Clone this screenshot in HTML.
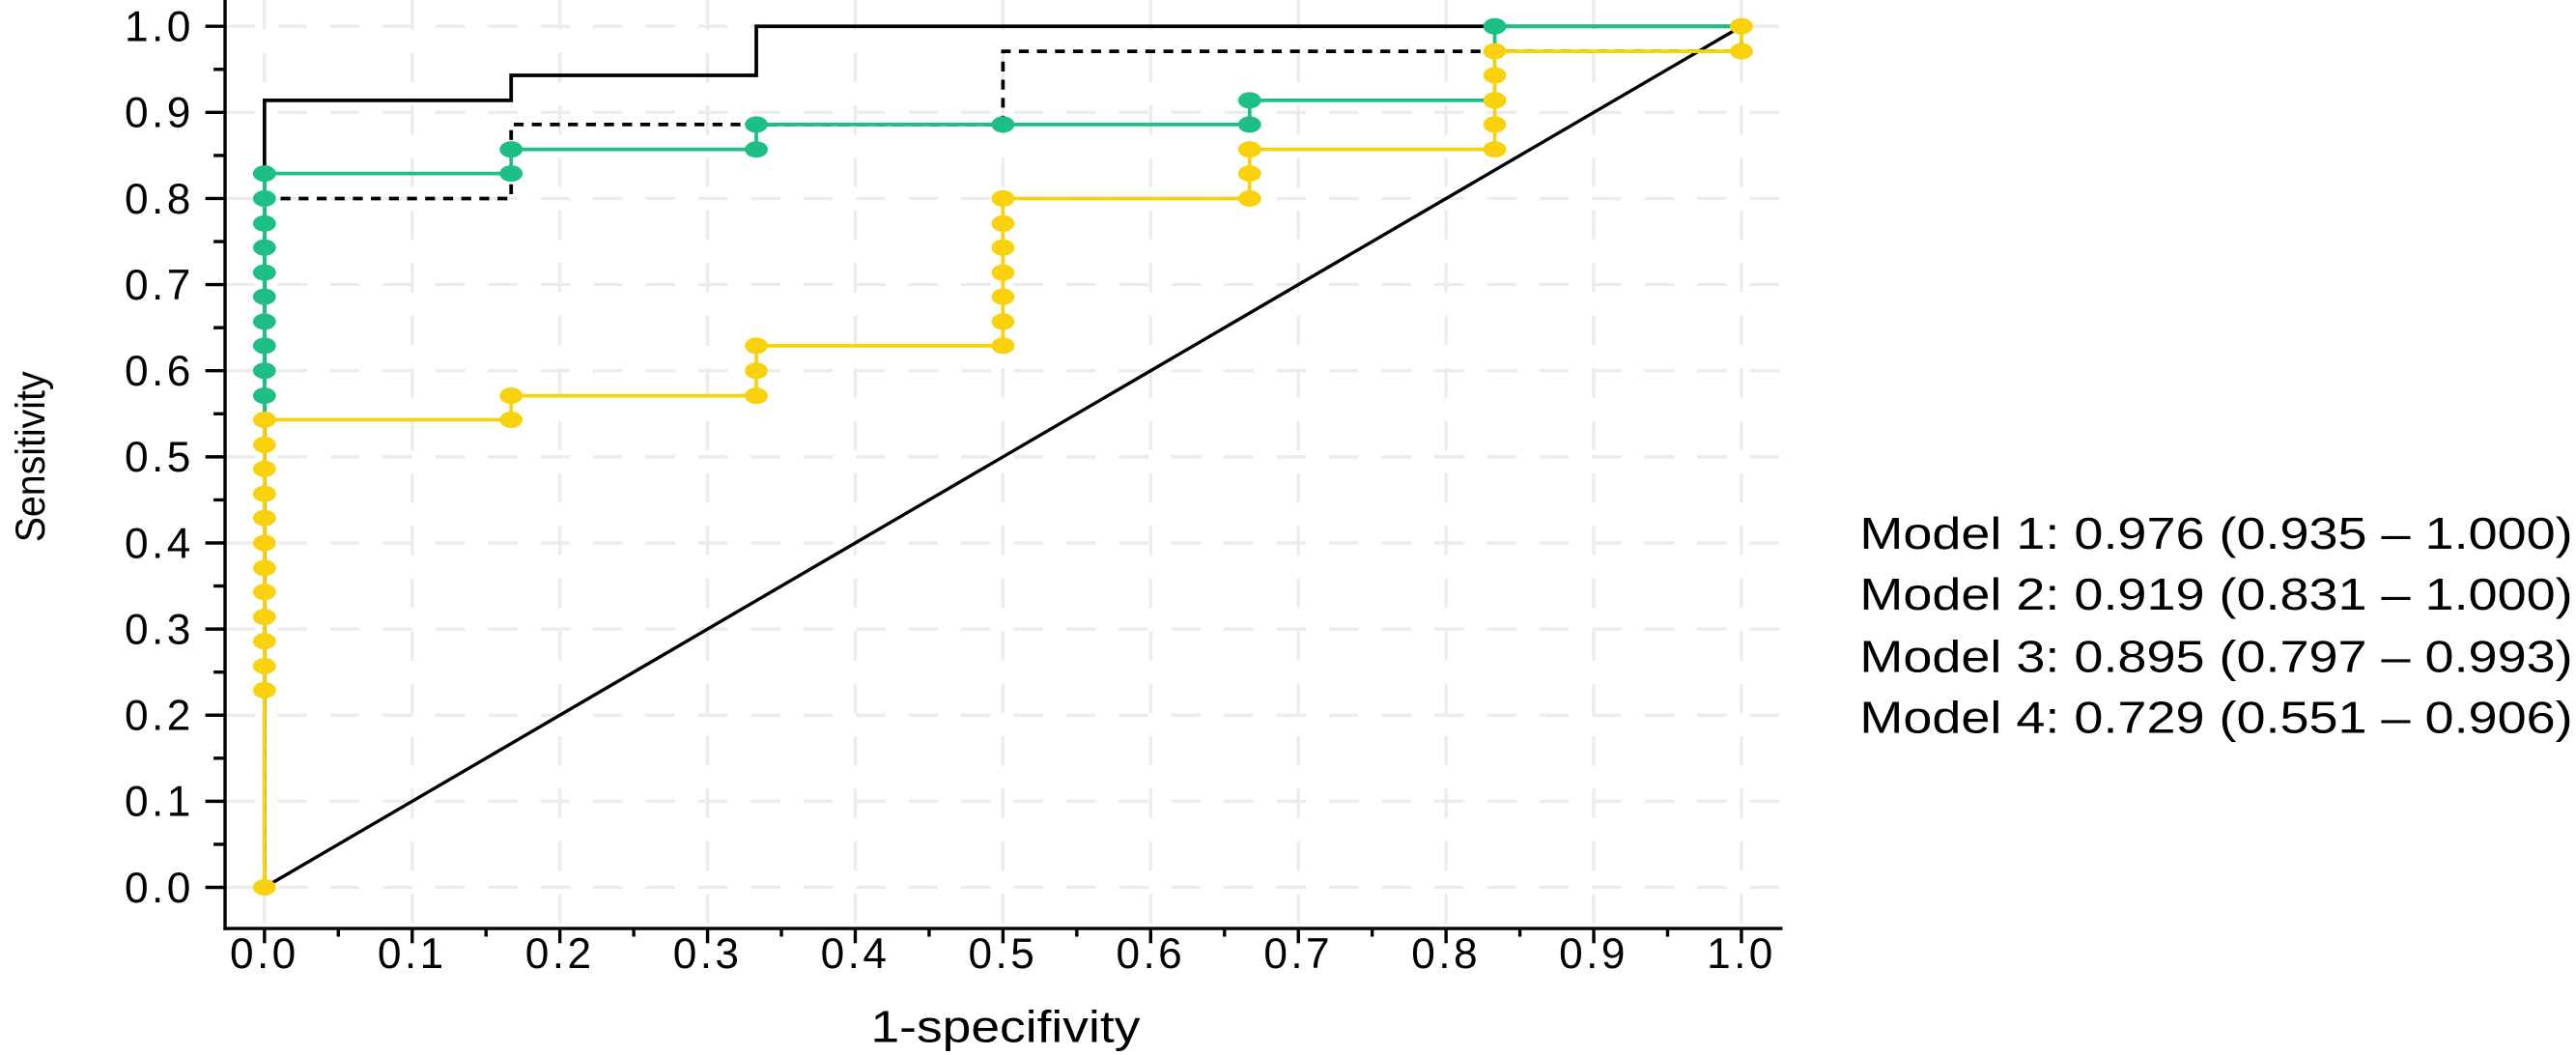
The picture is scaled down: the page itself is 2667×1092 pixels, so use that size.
<!DOCTYPE html>
<html><head><meta charset="utf-8"><style>
html,body{margin:0;padding:0;background:#fff;}
svg{display:block;}
text{font-family:"Liberation Sans",sans-serif;fill:#000;}
</style></head><body>
<svg id="chart" width="2667" height="1092" viewBox="0 0 1568 642" xmlns="http://www.w3.org/2000/svg">
<g id="grid"></g>
<g id="axes"></g>
<g id="series"></g>
<text x="612" y="634" font-size="27" text-anchor="middle" textLength="164" lengthAdjust="spacingAndGlyphs">1-specifivity</text>
<text x="0" y="0" font-size="25" text-anchor="middle" textLength="104" lengthAdjust="spacingAndGlyphs" transform="translate(27,278) rotate(-90)">Sensitivity</text>
<g font-size="27">
<text x="1132" y="334" textLength="434" lengthAdjust="spacingAndGlyphs">Model 1: 0.976 (0.935 – 1.000)</text>
<text x="1132" y="371" textLength="434" lengthAdjust="spacingAndGlyphs">Model 2: 0.919 (0.831 – 1.000)</text>
<text x="1132" y="409" textLength="434" lengthAdjust="spacingAndGlyphs">Model 3: 0.895 (0.797 – 0.993)</text>
<text x="1132" y="446" textLength="434" lengthAdjust="spacingAndGlyphs">Model 4: 0.729 (0.551 – 0.906)</text>
</g>
</svg>
<script>
const xTicks = [0,0.1,0.2,0.3,0.4,0.5,0.6,0.7,0.8,0.9,1.0];
const yTicks = [0,0.1,0.2,0.3,0.4,0.5,0.6,0.7,0.8,0.9,1.0];
const m1Fpr = [0,0,0.167,0.167,0.333,0.333,1];
const m1Tpr = [0,0.914,0.914,0.943,0.943,1,1];
const m2Fpr = [0,0,0.167,0.167,0.5,0.5,1,1];
const m2Tpr = [0,0.8,0.8,0.886,0.886,0.971,0.971,1];
const m3Fpr = [0,0,0,0,0,0,0,0,0,0,0,0.167,0.167,0.333,0.333,0.5,0.667,0.667,0.833,0.833,1];
const m3Tpr = [0,0.571,0.6,0.629,0.657,0.686,0.714,0.743,0.771,0.8,0.829,0.829,0.857,0.857,0.886,0.886,0.886,0.914,0.914,1,1];
const m4Fpr = [0,0,0,0,0,0,0,0,0,0,0,0,0,0.167,0.167,0.333,0.333,0.333,0.5,0.5,0.5,0.5,0.5,0.5,0.5,0.667,0.667,0.667,0.833,0.833,0.833,0.833,0.833,1,1];
const m4Tpr = [0,0.229,0.257,0.286,0.314,0.343,0.371,0.4,0.429,0.457,0.486,0.514,0.543,0.543,0.571,0.571,0.6,0.629,0.629,0.657,0.686,0.714,0.743,0.771,0.8,0.8,0.829,0.857,0.857,0.886,0.914,0.943,0.971,0.971,1];
const m3HasMarker = [false,true,true,true,true,true,true,true,true,true,true,true,true,true,true,true,true,true,true,true,false];

const NS='http://www.w3.org/2000/svg';
const X0=161,X1=1060,Y0=540,Y1=16;
function sx(v){return X0+(X1-X0)*v;}
function sy(v){return Y0-(Y0-Y1)*v;}
function mk(tag,attrs,parent){const e=document.createElementNS(NS,tag);for(const k in attrs)e.setAttribute(k,attrs[k]);parent.appendChild(e);return e;}
const grid=document.getElementById('grid'),axes=document.getElementById('axes'),series=document.getElementById('series');

xTicks.forEach((t,i)=>{
  const g=mk('line',{x1:sx(t),x2:sx(t),y1:0,y2:565,stroke:'#ececec','stroke-width':2,'stroke-dasharray':'18,14'},grid);
  
  
  const tk=mk('line',{x1:sx(t),x2:sx(t),y1:565,y2:574,stroke:'#000','stroke-width':2},axes);
  
  
  const lb=mk('text',{x:sx(t),y:589,'font-size':26,'text-anchor':'middle','letter-spacing':2},axes);
  lb.textContent=t.toFixed(1);
  
  
  if(i<xTicks.length-1){
    const mt=mk('line',{x1:sx(t+0.05),x2:sx(t+0.05),y1:565,y2:570,stroke:'#000','stroke-width':2},axes);
    
    
  }
});
yTicks.forEach((t,i)=>{
  const g=mk('line',{x1:137,x2:1085,y1:sy(t),y2:sy(t),stroke:'#ececec','stroke-width':2,'stroke-dasharray':'18,14'},grid);
  
  
  const tk=mk('line',{x1:125,x2:137,y1:sy(t),y2:sy(t),stroke:'#000','stroke-width':2},axes);
  
  
  const lb=mk('text',{x:118,y:sy(t)+9,'font-size':26,'text-anchor':'end','letter-spacing':2},axes);
  lb.textContent=t.toFixed(1);
  
  
  if(i<yTicks.length-1){
    const mt=mk('line',{x1:130,x2:137,y1:sy(t+0.05),y2:sy(t+0.05),stroke:'#000','stroke-width':2},axes);
    
    
  }
});
const ya=mk('line',{x1:137,x2:137,y1:0,y2:566,stroke:'#000','stroke-width':2},axes);


const xa=mk('line',{x1:136,x2:1085,y1:565,y2:565,stroke:'#000','stroke-width':2},axes);



const diag=mk('line',{x1:sx(0),y1:sy(0),x2:sx(1),y2:sy(1),stroke:'#000','stroke-width':2},series);



function path(fpr,tpr){return fpr.map((f,i)=>(i?'L':'M')+sx(f)+','+sy(tpr[i])).join(' ');}
function drawLine(fpr,tpr,color,dash,name){
  const p=mk('path',{d:path(fpr,tpr),fill:'none',stroke:color,'stroke-width':2.2},series);
  if(dash)p.setAttribute('stroke-dasharray',dash);
  
  
}
function drawMarkers(fpr,tpr,color,name,flags){
  fpr.forEach((f,i)=>{
    if(flags&&!flags[i])return;
    const e=mk('ellipse',{cx:sx(f),cy:sy(tpr[i]),rx:7,ry:5,fill:color},series);
    
    
  });
}
drawLine(m2Fpr,m2Tpr,'#000','6,5','model-2-line');
drawLine(m1Fpr,m1Tpr,'#000',null,'model-1-line');
drawLine(m3Fpr,m3Tpr,'#1dbf84',null,'model-3-line');
drawMarkers(m3Fpr,m3Tpr,'#1dbf84','model-3-point',m3HasMarker);
drawLine(m4Fpr,m4Tpr,'#f9d10c',null,'model-4-line');
drawMarkers(m4Fpr,m4Tpr,'#f9d10c','model-4-point',null);
</script>
</body></html>
